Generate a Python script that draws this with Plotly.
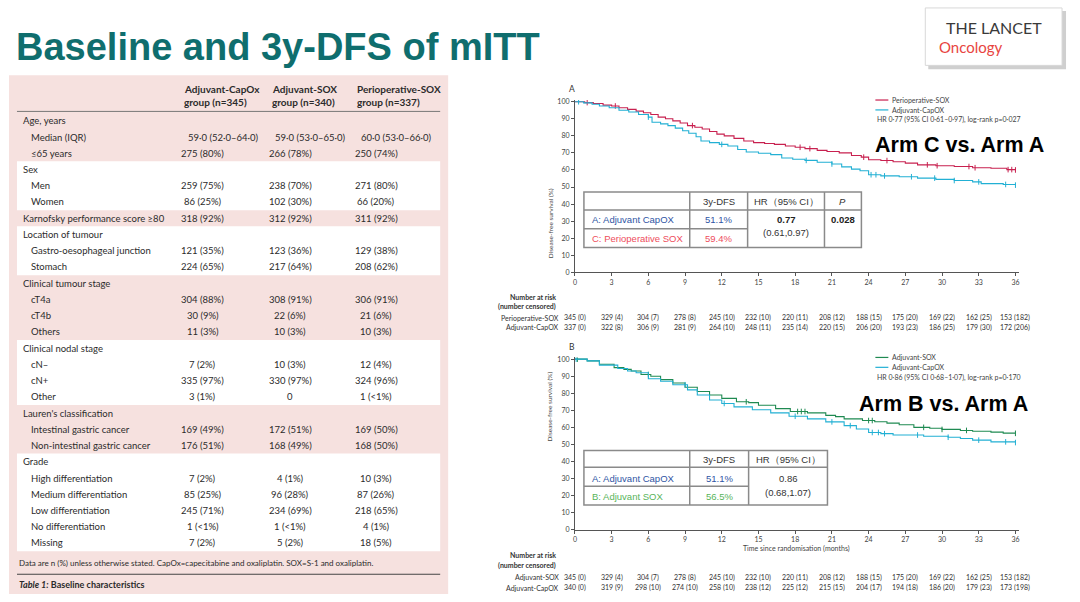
import plotly.graph_objects as go
import numpy as np

W, H = 1080, 602
def X(px): return px / W
def Y(py): return 1 - py / H

# ---------------- DATA ----------------
title_text = "Baseline and 3y-DFS of mITT"
col_headers = [("Adjuvant-CapOx", "group (n=345)"),
               ("Adjuvant-SOX", "group (n=340)"),
               ("Perioperative-SOX", "group (n=337)")]
row_labels = ["Age, years", "Median (IQR)", "≤65 years", "Sex", "Men", "Women",
              "Karnofsky performance score ≥80", "Location of tumour",
              "Gastro-oesophageal junction", "Stomach", "Clinical tumour stage",
              "cT4a", "cT4b", "Others", "Clinical nodal stage", "cN–", "cN+", "Other",
              "Lauren's classification", "Intestinal gastric cancer",
              "Non-intestinal gastric cancer", "Grade", "High differentiation",
              "Medium differentiation", "Low differentiation", "No differentiation", "Missing"]
row_indent = [0, 1, 1, 0, 1, 1, 0, 0, 1, 1, 0, 1, 1, 1, 0, 1, 1, 1, 0, 1, 1, 0, 1, 1, 1, 1, 1]
capox_vals = ["", "59·0 (52·0–64·0)", "275 (80%)", "", "259 (75%)", "86 (25%)", "318 (92%)", "",
              "121 (35%)", "224 (65%)", "", "304 (88%)", "30 (9%)", "11 (3%)", "", "7 (2%)",
              "335 (97%)", "3 (1%)", "", "169 (49%)", "176 (51%)", "", "7 (2%)", "85 (25%)",
              "245 (71%)", "1 (<1%)", "7 (2%)"]
sox_vals = ["", "59·0 (53·0–65·0)", "266 (78%)", "", "238 (70%)", "102 (30%)", "312 (92%)", "",
            "123 (36%)", "217 (64%)", "", "308 (91%)", "22 (6%)", "10 (3%)", "", "10 (3%)",
            "330 (97%)", "0", "", "172 (51%)", "168 (49%)", "", "4 (1%)", "96 (28%)",
            "234 (69%)", "1 (<1%)", "5 (2%)"]
peri_vals = ["", "60·0 (53·0–66·0)", "250 (74%)", "", "271 (80%)", "66 (20%)", "311 (92%)", "",
             "129 (38%)", "208 (62%)", "", "306 (91%)", "21 (6%)", "10 (3%)", "", "12 (4%)",
             "324 (96%)", "1 (<1%)", "", "169 (50%)", "168 (50%)", "", "10 (3%)", "87 (26%)",
             "218 (65%)", "4 (1%)", "18 (5%)"]
white_groups = [(3, 5), (7, 9), (14, 17), (21, 26)]
footnote = "Data are n (%) unless otherwise stated. CapOx=capecitabine and oxaliplatin. SOX=S-1 and oxaliplatin."

# Panel A: Perioperative-SOX vs Adjuvant-CapOX
periA_t = [0, 0.8, 1.5, 2.3, 3.0, 3.6, 4.3, 5.0, 5.6, 6.2, 6.8, 7.4, 8.0, 8.6, 9.2, 9.8, 10.4, 11.0,
           11.6, 12.2, 13.0, 13.8, 14.6, 15.5, 16.3, 17.2, 18.0, 18.8, 19.8, 20.6, 21.6, 22.6, 23.4,
           24.0, 25.0, 26.0, 27.0, 28.0, 29.5, 31.0, 32.5, 34.0, 35.3, 36.0]
periA_s = [100, 99.5, 99, 98, 97.5, 96.5, 95.5, 94.5, 93.5, 92.5, 91, 90, 88.8, 87.5, 86, 85, 84,
           82.5, 81, 80, 78.5, 77, 76, 75.5, 75, 74, 73.3, 72.5, 71.5, 70.8, 70, 68.5, 67.5, 66,
           65.5, 64.8, 64, 63, 62.5, 62, 61.3, 61, 60.2, 60]
periA_c = [1.0, 3.3, 9.6, 18.4, 19.2, 23.6, 25.5, 28.8, 29.6, 32.2, 32.7, 35.4, 35.7, 36.0]
capA_t = [0, 0.7, 1.4, 2.0, 2.8, 3.6, 4.4, 5.2, 6.0, 6.3, 7.0, 7.6, 8.2, 8.8, 9.3, 9.9, 10.3, 11.0,
          11.8, 12.5, 13.3, 14.0, 15.0, 16.0, 16.9, 17.8, 18.8, 19.8, 21.0, 21.8, 22.6, 23.3, 24.0,
          25.0, 26.5, 28.0, 29.5, 31.0, 32.5, 33.2, 35.0, 36.0]
capA_s = [100, 99.3, 98.5, 97.5, 96.5, 95, 94, 92.5, 91, 88, 87, 86, 84.5, 83, 81.5, 79.5, 77,
          76, 75, 74, 72, 70.5, 69.8, 69, 67, 66.3, 65.6, 64.5, 63.5, 61.8, 60.5, 59.5, 57.2,
          56.5, 56, 55.2, 54.5, 53.8, 53, 52, 51.5, 51.1]
capA_c = [0.3, 6.0, 12.0, 18.9, 21.0, 24.2, 24.6, 25.3, 27.5, 29.4, 31.0, 33.0, 35.2, 36.0]

# Panel B: Adjuvant-SOX vs Adjuvant-CapOX
soxB_t = [0, 1.0, 2.0, 3.2, 4.0, 4.6, 5.4, 6.2, 7.0, 8.0, 9.0, 10.0, 11.0, 12.0, 13.2, 14.2, 15.0,
          16.4, 17.6, 19.0, 20.5, 21.3, 22.0, 23.5, 24.5, 25.5, 26.5, 27.7, 29.0, 30.0, 31.5, 32.5,
          34.0, 35.0, 36.0]
soxB_s = [100, 99, 97, 95, 94, 93, 91, 90, 88, 86, 83.5, 81, 79, 77, 75, 74.5, 73, 71, 69.3, 68.5,
          67, 66.3, 65, 64, 63.3, 62.5, 61.5, 60, 59.5, 58.8, 58.2, 57.7, 57.2, 56.6, 56.5]
soxB_c = [0.2, 6.0, 14.0, 18.2, 18.5, 18.8, 24.0, 24.3, 28.5, 30.0, 32.0, 36.0]
capB_t = [0, 1.0, 2.0, 3.5, 4.3, 5.0, 6.0, 7.0, 8.0, 9.2, 10.0, 11.0, 12.0, 13.0, 14.5, 16.0,
          17.5, 19.0, 20.5, 22.0, 23.0, 24.0, 25.0, 26.0, 28.5, 30.5, 31.5, 32.5, 34.0, 36.0]
capB_s = [100, 99, 96.5, 94.5, 93, 92, 88.5, 87, 85, 82, 79, 76, 74, 72, 70.3, 68.5, 66.5, 65,
          63.2, 61, 59, 57, 56.3, 55.5, 54.8, 54.2, 53.5, 52.5, 51.5, 51.1]
capB_c = [0.1, 9.0, 12.2, 18.0, 21.0, 22.5, 24.3, 24.8, 25.3, 28.0, 30.5, 33.0, 35.2, 36.0]

months = [0, 3, 6, 9, 12, 15, 18, 21, 24, 27, 30, 33, 36]
riskA_peri = ["345 (0)", "329 (4)", "304 (7)", "278 (8)", "245 (10)", "232 (10)", "220 (11)",
              "208 (12)", "188 (15)", "175 (20)", "169 (22)", "162 (25)", "153 (182)"]
riskA_cap = ["337 (0)", "322 (8)", "306 (9)", "281 (9)", "264 (10)", "248 (11)", "235 (14)",
             "220 (15)", "206 (20)", "193 (23)", "186 (25)", "179 (30)", "172 (206)"]
riskB_sox = ["345 (0)", "329 (4)", "304 (7)", "278 (8)", "245 (10)", "232 (10)", "220 (11)",
             "208 (12)", "188 (15)", "175 (20)", "169 (22)", "162 (25)", "153 (182)"]
riskB_cap = ["340 (0)", "319 (9)", "298 (10)", "274 (10)", "258 (10)", "238 (12)", "225 (12)",
             "215 (15)", "204 (17)", "194 (18)", "186 (20)", "179 (23)", "173 (198)"]

# ---------------- STYLE ----------------
RED = "#c8204f"
CYAN = "#22b0d4"
GREEN = "#1f8a52"
TXT = "#2b2b2b"
PINK = "#f6e1df"
BODY = "Lato, Noto Sans, sans-serif"
ARIAL = "Liberation Sans, Arial, sans-serif"

fig = go.Figure()
shapes, ann = [], []

def text(px, py, s, size=9.5, color=TXT, xa="left", fam=BODY, ya="middle", **kw):
    ann.append(dict(x=X(px), y=Y(py), xref="paper", yref="paper", text=s, showarrow=False,
                    xanchor=xa, yanchor=ya, font=dict(size=size, color=color, family=fam), **kw))

def rect(x0, y0, x1, y1, fill=None, line=None, lw=1):
    shapes.append(dict(type="rect", xref="paper", yref="paper", x0=X(x0), x1=X(x1), y0=Y(y1), y1=Y(y0),
                       fillcolor=fill or "rgba(0,0,0,0)", line=dict(color=line or "rgba(0,0,0,0)", width=lw if line else 0),
                       layer="below"))

def hline(x0, x1, py, color="#555", w=1, layer="above"):
    shapes.append(dict(type="line", xref="paper", yref="paper", x0=X(x0), x1=X(x1), y0=Y(py), y1=Y(py),
                       line=dict(color=color, width=w), layer=layer))

def vline(px, y0, y1, color="#555", w=1, layer="above"):
    shapes.append(dict(type="line", xref="paper", yref="paper", x0=X(px), x1=X(px), y0=Y(y0), y1=Y(y1),
                       line=dict(color=color, width=w), layer=layer))

# ---------- title ----------
text(12, 44, "<b>" + title_text + "</b>", size=38, color="#0f6e6e",
     fam="Liberation Sans Narrow, Arial Narrow, Liberation Sans, sans-serif")

# ---------- logo ----------
rect(928, 8, 1066, 67, fill="#cfcfcf")
rect(925, 5, 1062, 63, fill="white", line="#d8d8d8", lw=1)
text(994, 25, "THE LANCET", size=16, color="#3a3a3a", xa="center", fam=BODY)
text(937, 44, "Oncology", size=15, color="#e8453f", fam=BODY)

# ---------- baseline table ----------
rect(7, 73, 447, 597, fill=PINK)
row_y = [119 + i * 16.4 for i in range(len(row_labels))]
for a, b in white_groups:
    rect(15, row_y[a] - 8.3, 439, row_y[b] + 8.3, fill="white")
hx = [180, 268, 354]
for (l1, l2), x in zip(col_headers, hx):
    text(x, 87, "<b>" + l1 + "</b>", size=10)
    text(x, 100.5, "<b>" + l2 + "</b>", size=10)
hline(15, 439, 109.5, color="#777", w=1)
cx = [201, 289, 375]
for i, lab in enumerate(row_labels):
    text(19 + 8 * row_indent[i], row_y[i], lab, size=9.5)
    for vals, c, lx in zip([capox_vals, sox_vals, peri_vals], cx, [184, 272, 358]):
        v = vals[i]
        if not v:
            continue
        if "IQR" in lab:
            text(lx, row_y[i], v, size=9.5)
        else:
            text(c, row_y[i], v, size=9.5, xa="center")
text(15, 566, footnote, size=8)
hline(15, 439, 577, color="#444", w=1.2)
text(15, 587.5, "<b><i>Table 1:</i> Baseline characteristics</b>", size=9)

# ---------- KM panels ----------
def step_val(ts, ss, t):
    idx = np.searchsorted(np.array(ts), t, side="right") - 1
    return ss[max(idx, 0)]

panels = [
    dict(xa="x", ya="y", top=98, bot=272,
         curves=[(periA_t, periA_s, periA_c, RED, "Perioperative-SOX"),
                 (capA_t, capA_s, capA_c, CYAN, "Adjuvant-CapOX")]),
    dict(xa="x2", ya="y2", top=358, bot=532,
         curves=[(soxB_t, soxB_s, soxB_c, GREEN, "Adjuvant-SOX"),
                 (capB_t, capB_s, capB_c, CYAN, "Adjuvant-CapOX")]),
]
for p in panels:
    for ts, ss, cs, col, name in p["curves"]:
        fig.add_trace(go.Scatter(x=ts, y=ss, mode="lines", line=dict(color=col, width=1.1, shape="hv"),
                                 xaxis=p["xa"], yaxis=p["ya"], showlegend=False, name=name))
        fig.add_trace(go.Scatter(x=cs, y=[step_val(ts, ss, c) for c in cs], mode="markers",
                                 marker=dict(symbol="line-ns", size=4, line=dict(color=col, width=1)),
                                 xaxis=p["xa"], yaxis=p["ya"], showlegend=False, name=name))

axis_common = dict(showgrid=False, zeroline=False, showline=True, linecolor="#555", linewidth=1,
                   ticks="outside", ticklen=3, tickcolor="#555",
                   tickfont=dict(size=7, color="#444", family=BODY))
layout_axes = {}
for k, p in enumerate(panels):
    sfx = "" if k == 0 else "2"
    layout_axes["xaxis" + sfx] = dict(axis_common, domain=[X(574), X(1019)], range=[0, 36.3],
                                       tickvals=months, anchor="y" + sfx)
    layout_axes["yaxis" + sfx] = dict(axis_common, domain=[Y(p["bot"]), Y(p["top"])], range=[0, 101],
                                       tickvals=list(range(0, 101, 10)), anchor="x" + sfx)

# panel labels, y titles
for lab, py, cy in [("A", 87, 185), ("B", 347, 445)]:
    text(566, py, lab, size=8.5, color="#333", fam=BODY)
    ann.append(dict(x=X(549), y=Y(cy), xref="paper", yref="paper", text="Disease-free survival (%)",
                    showarrow=False, textangle=-90, font=dict(size=6.5, color="#444", family=BODY)))

# legends
for (py0, items, hr) in [(98, [(RED, "Perioperative-SOX"), (CYAN, "Adjuvant-CapOX")],
                          "HR 0·77 (95% CI 0·61–0·97), log-rank p=0·027"),
                         (358, [(GREEN, "Adjuvant-SOX"), (CYAN, "Adjuvant-CapOX")],
                          "HR 0·86 (95% CI 0·68–1·07), log-rank p=0·170")]:
    for j, (c, nm) in enumerate(items):
        hline(875, 888, py0 + 10 * j, color=c, w=1.2)
        text(890, py0 + 10 * j, nm, size=7, color="#444")
    text(875, py0 + 20, hr, size=7, color="#444")

text(873, 143, "<b>Arm C vs. Arm A</b>", size=21.5, color="black", fam=ARIAL)
text(857, 405, "<b>Arm B vs. Arm A</b>", size=21.5, color="black", fam=ARIAL)

# inner tables
BLUE_T = "#2f55a4"
RED_T = "#ee4d5c"
GREEN_T = "#58b45a"
BC = "#8a8a8a"
# table A
rect(583, 191, 861, 247, fill="white", line=BC, lw=1.5)
for vx in [689, 747, 824]:
    vline(vx, 191, 247, color=BC, w=1.5)
hline(583, 861, 209, color=BC, w=1.5)
hline(583, 747, 228, color=BC, w=1.5)
text(718, 200, "3y-DFS", size=9.5, xa="center", fam=ARIAL, color="#333")
text(785.5, 200, "HR（95% CI）", size=9.5, xa="center", fam=ARIAL, color="#333")
text(842.5, 200, "<i>P</i>", size=9.5, xa="center", fam=ARIAL, color="#333")
text(589, 219, "A: Adjuvant CapOX", size=9.5, fam=ARIAL, color=BLUE_T)
text(718, 219, "51.1%", size=9.5, xa="center", fam=ARIAL, color=BLUE_T)
text(589, 238, "C: Perioperative SOX", size=9.5, fam=ARIAL, color=RED_T)
text(718, 238, "59.4%", size=9.5, xa="center", fam=ARIAL, color=RED_T)
text(785.5, 219, "<b>0.77</b>", size=9.5, xa="center", fam=ARIAL, color="#222")
text(785.5, 232, "(0.61,0.97)", size=9.5, xa="center", fam=ARIAL, color="#333")
text(842.5, 219, "<b>0.028</b>", size=9.5, xa="center", fam=ARIAL, color="#222")
# table B
rect(583, 452, 827, 507, fill="white", line=BC, lw=1.5)
for vx in [689, 748]:
    vline(vx, 452, 507, color=BC, w=1.5)
hline(583, 827, 469, color=BC, w=1.5)
hline(583, 748, 488, color=BC, w=1.5)
text(718.5, 461, "3y-DFS", size=9.5, xa="center", fam=ARIAL, color="#333")
text(787.5, 461, "HR（95% CI）", size=9.5, xa="center", fam=ARIAL, color="#333")
text(589, 480, "A: Adjuvant CapOX", size=9.5, fam=ARIAL, color=BLUE_T)
text(718.5, 480, "51.1%", size=9.5, xa="center", fam=ARIAL, color=BLUE_T)
text(589, 498, "B: Adjuvant SOX", size=9.5, fam=ARIAL, color=GREEN_T)
text(718.5, 498, "56.5%", size=9.5, xa="center", fam=ARIAL, color=GREEN_T)
text(787.5, 480, "0.86", size=9.5, xa="center", fam=ARIAL, color="#333")
text(787.5, 494, "(0.68,1.07)", size=9.5, xa="center", fam=ARIAL, color="#333")

# x title B
text(796, 551, "Time since randomisation (months)", size=7, xa="center", color="#444")

# number at risk
for (ys, names, rows, xr) in [((297, 306.5, 318, 327.5), ("Perioperative-SOX", "Adjuvant-CapOX"),
                               (riskA_peri, riskA_cap), "x"),
                              ((558, 568.5, 580, 590.5), ("Adjuvant-SOX", "Adjuvant-CapOX"),
                               (riskB_sox, riskB_cap), "x2")]:
    text(557, ys[0], "<b>Number at risk</b>", size=7, xa="right", color="#333")
    text(557, ys[1], "<b>(number censored)</b>", size=7, xa="right", color="#333")
    for nm, vals, yy in zip(names, rows, ys[2:]):
        text(560, yy, nm, size=7, xa="right", color="#333")
        for m, v in zip(months, vals):
            ann.append(dict(x=m, y=Y(yy), xref=xr, yref="paper", text=v, showarrow=False,
                            xanchor="center", yanchor="middle",
                            font=dict(size=7, color="#333", family=BODY)))

fig.update_layout(width=W, height=H, autosize=False, margin=dict(l=0, r=0, t=0, b=0),
                  paper_bgcolor="white", plot_bgcolor="rgba(0,0,0,0)", showlegend=False,
                  shapes=shapes, annotations=ann, **layout_axes)
fig.write_html("out.html", config={"displayModeBar": False},
               post_script="document.body.style.margin='0';document.body.style.overflow='hidden';")
